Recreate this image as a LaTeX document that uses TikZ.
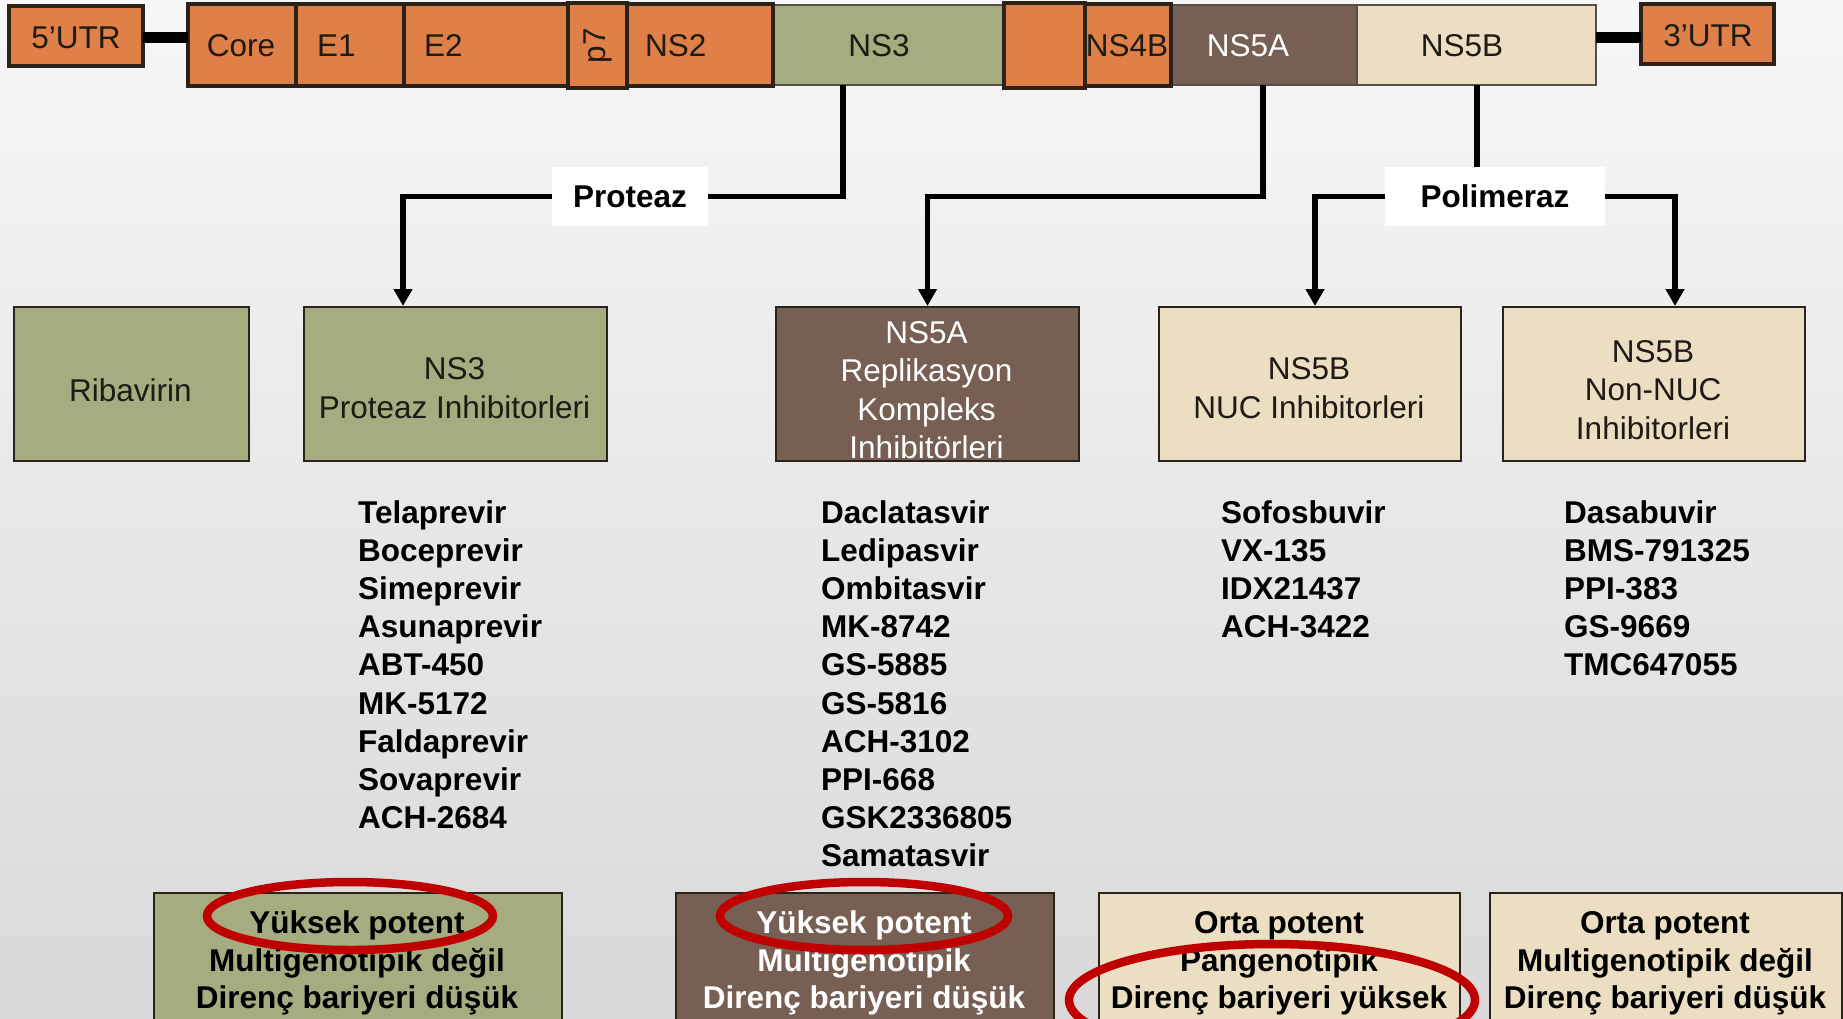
\documentclass[tikz,border=0pt]{standalone}
\usepackage{fontspec}
\setmainfont{Liberation Sans}
\usetikzlibrary{arrows.meta}
\definecolor{org}{RGB}{223,128,72}
\definecolor{grn}{RGB}{164,172,128}
\definecolor{brn}{RGB}{119,95,84}
\definecolor{bei}{RGB}{235,222,195}
\definecolor{edge}{RGB}{43,35,25}
\definecolor{ringc}{RGB}{192,0,0}
\definecolor{bgtop}{RGB}{247,247,247}
\definecolor{bgbot}{RGB}{217,217,217}
\definecolor{ink}{RGB}{30,26,20}
\newcommand\dgfont{\fontsize{31.5}{38.4}\selectfont}
\begin{document}
\begin{tikzpicture}[x=1pt,y=-1pt,
 every node/.style={font=\dgfont, text=ink},
 seg/.style={rectangle, anchor=north west, inner sep=0pt, outer sep=0pt},
 thickseg/.style={seg, draw=edge, line width=3.5pt, fill=org},
 thinseg/.style={seg, draw=edge!80, line width=1.2pt},
 bartxt/.style={anchor=base, inner sep=0pt},
 barltxt/.style={anchor=base west, inner sep=0pt},
 box/.style={rectangle, anchor=north west, inner sep=0pt, draw=edge, line width=2pt, minimum height=154pt},
 boxtxt/.style={align=center, inner sep=0pt},
 drug/.style={anchor=base west, inner sep=0pt, font=\dgfont\bfseries, text=black},
 eff/.style={anchor=base, inner sep=0pt, font=\dgfont\bfseries, text=black},
 lbl/.style={fill=white, inner sep=0pt, minimum height=59pt, font=\dgfont\bfseries, text=black},
 conn/.style={line width=5.5pt, black},
 arr/.style={conn, -{Triangle[width=18pt,length=17pt]}},
 link/.style={line width=11pt, black},
 ringst/.style={draw=ringc, line width=8.5pt}
]
\useasboundingbox (0,0) rectangle (1843,1018);
\shade[top color=bgtop, bottom color=bgbot] (0,0) rectangle (1843,1018);
\clip (0,0) rectangle (1843,1018);

% ---- genome bar ----
\node[thinseg, fill=grn, minimum width=231pt, minimum height=80pt] (ns3s) at (773,5) {};
\node[thinseg, fill=brn, minimum width=186pt, minimum height=80pt] (ns5as) at (1171,5) {};
\node[thinseg, fill=bei, minimum width=239pt, minimum height=80pt] (ns5bs) at (1357,5) {};
\node[thickseg, minimum width=134pt, minimum height=60pt] (utr5) at (9,6) {};
\node[thickseg, minimum width=108pt, minimum height=82pt] (core) at (188,4) {};
\node[thickseg, minimum width=108pt, minimum height=82pt] (e1) at (296,4) {};
\node[thickseg, minimum width=164pt, minimum height=82pt] (e2) at (404,4) {};
\node[thickseg, minimum width=146pt, minimum height=82pt] (ns2) at (627,4) {};
\node[thickseg, minimum width=59pt, minimum height=85pt] (p7) at (568,3) {};
\node[thickseg, minimum width=81pt, minimum height=85pt] (ns4a) at (1004,3) {};
\node[thickseg, minimum width=86pt, minimum height=82pt] (ns4b) at (1085,4) {};
\node[thickseg, minimum width=133pt, minimum height=60pt] (utr3) at (1641,4) {};
\draw[link] (utr5.east |- 0,37.5) -- (core.west |- 0,37.5);
\draw[link] (ns5bs.east |- 0,37.5) -- (utr3.west |- 0,37.5);

\node[bartxt] (t5utr) at (76,48) {5’UTR};
\node[bartxt] (t3utr) at (1708,46) {3’UTR};
\node[bartxt] (tcore) at (241,56) {Core};
\node[barltxt] (te1) at (317,56) {E1};
\node[barltxt] (te2) at (424,56) {E2};
\node[rotate=90, inner sep=0pt] (tp7) at (598,45.5) {p7};
\node[barltxt] (tns2) at (645,56) {NS2};
\node[bartxt] (tns3) at (879,56) {NS3};
\node[bartxt] (tns4b) at (1127,56) {NS4B};
\node[bartxt, text=white] (tns5a) at (1248,56) {NS5A};
\node[bartxt] (tns5b) at (1462,56) {NS5B};

% ---- class boxes ----
\node[box, fill=grn, minimum width=235pt] (rib) at (13,306) {};
\node[box, fill=grn, minimum width=303pt] (ns3i) at (303,306) {};
\node[box, fill=brn, minimum width=303pt] (ns5ai) at (775,306) {};
\node[box, fill=bei, minimum width=302pt] (nuc) at (1158,306) {};
\node[box, fill=bei, minimum width=302pt] (nnuc) at (1502,306) {};

\node[boxtxt] (trib) at (130.5,390) {Ribavirin};
\node[boxtxt] (tns3i) at (454.5,388) {NS3\\Proteaz Inhibitorleri};
\node[boxtxt, text=white] (tns5ai) at (926.5,390) {NS5A\\Replikasyon\\Kompleks\\Inhibitörleri};
\node[boxtxt] (tnuc) at (1309,388) {NS5B\\NUC Inhibitorleri};
\node[boxtxt] (tnnuc) at (1653,390) {NS5B\\Non-NUC\\Inhibitorleri};

% ---- connectors ----
\node[lbl, minimum width=156pt] (prot) at (630,196.5) {Proteaz};
\node[lbl, minimum width=220pt] (pol) at (1495,196.5) {Polimeraz};
\coordinate (xa) at (843,0);
\coordinate (xb) at (403,0);
\coordinate (xc) at (1263,0);
\coordinate (xe) at (1477,0);
\coordinate (xf) at (1315,0);
\coordinate (xg) at (1675,0);
\draw[conn] (ns3s.south -| xa) |- (prot.east);
\draw[arr] (prot.west) -| (ns3i.north -| xb);
\draw[arr] (ns5as.south -| xc) |- (ns5ai.north |- prot.center) -- (ns5ai.north);
\draw[conn] (ns5bs.south -| xe) -- (pol.north -| xe);
\draw[arr] (pol.west) -| (nuc.north -| xf);
\draw[arr] (pol.east) -| (nnuc.north -| xg);

% ---- drug lists ----
\foreach \d [count=\k from 0] in {Telaprevir,Boceprevir,Simeprevir,Asunaprevir,ABT-450,MK-5172,Faldaprevir,Sovaprevir,ACH-2684}
  \node[drug] (pa\k) at (358,{523+38.2*\k}) {\d};
\foreach \d [count=\k from 0] in {Daclatasvir,Ledipasvir,Ombitasvir,MK-8742,GS-5885,GS-5816,ACH-3102,PPI-668,GSK2336805,Samatasvir}
  \node[drug] (pb\k) at (821,{523+38.2*\k}) {\d};
\foreach \d [count=\k from 0] in {Sofosbuvir,VX-135,IDX21437,ACH-3422}
  \node[drug] (pc\k) at (1221,{523+38.2*\k}) {\d};
\foreach \d [count=\k from 0] in {Dasabuvir,BMS-791325,PPI-383,GS-9669,TMC647055}
  \node[drug] (pd\k) at (1564,{523+38.2*\k}) {\d};

% ---- property boxes ----
\node[box, fill=grn, minimum width=408pt, minimum height=200pt] (ef1) at (153,892) {};
\node[box, fill=brn, minimum width=378pt, minimum height=200pt] (ef2) at (675,892) {};
\node[box, fill=bei, minimum width=361pt, minimum height=200pt] (ef3) at (1098,892) {};
\node[box, fill=bei, minimum width=352pt, minimum height=200pt] (ef4) at (1489,892) {};

\node[eff] (ef1a) at (357,933) {Yüksek potent};
\node[eff] (ef1b) at (357,971) {Multigenotipik değil};
\node[eff] (ef1c) at (357,1008) {Direnç bariyeri düşük};
\node[eff, text=white] (ef2a) at (864,933) {Yüksek potent};
\node[eff, text=white] (ef2b) at (864,971) {Multigenotipik};
\node[eff, text=white] (ef2c) at (864,1008) {Direnç bariyeri düşük};
\node[eff] (ef3a) at (1279,933) {Orta potent};
\node[eff] (ef3b) at (1279,971) {Pangenotipik};
\node[eff] (ef3c) at (1279,1008) {Direnç bariyeri yüksek};
\node[eff] (ef4a) at (1665,933) {Orta potent};
\node[eff] (ef4b) at (1665,971) {Multigenotipik değil};
\node[eff] (ef4c) at (1665,1008) {Direnç bariyeri düşük};

% ---- red rings ----
\draw[ringst] (350,916) ellipse [x radius=143pt, y radius=34pt];
\draw[ringst] (864,916) ellipse [x radius=144pt, y radius=34pt];
\draw[ringst] (1272,1000) ellipse [x radius=203pt, y radius=56pt];
\end{tikzpicture}
\end{document}
